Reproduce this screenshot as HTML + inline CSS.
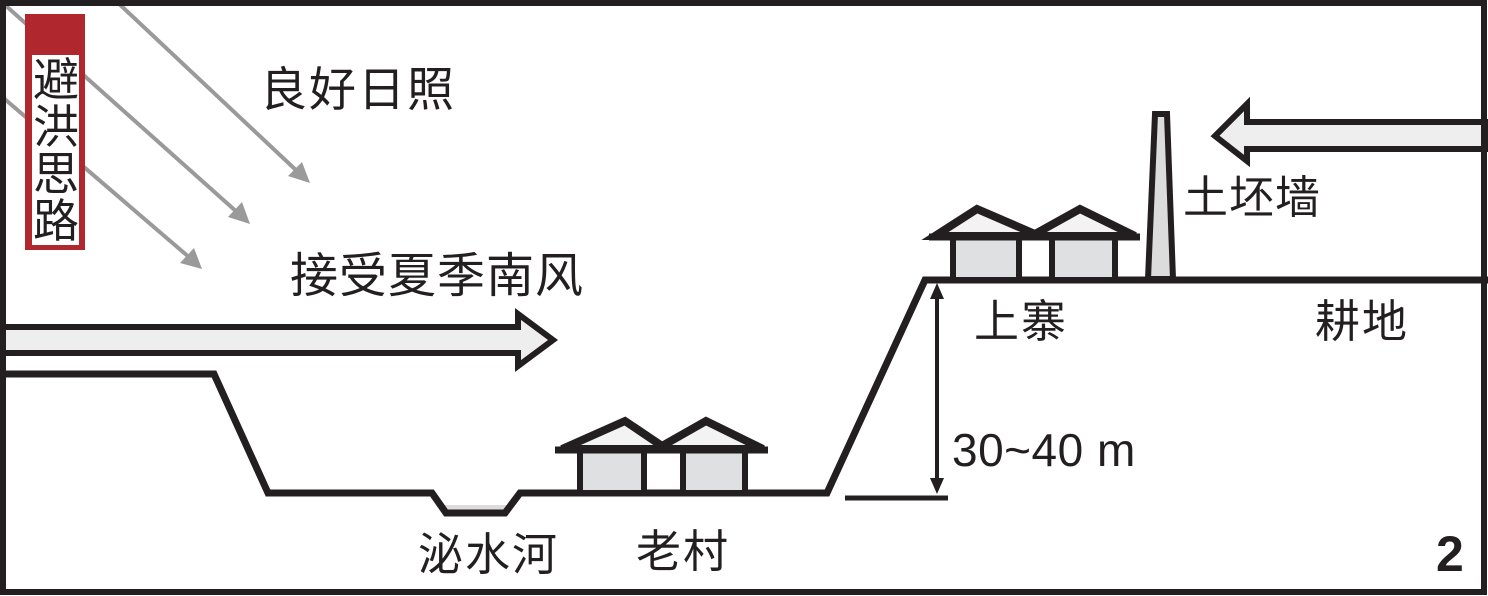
<!DOCTYPE html>
<html><head><meta charset="utf-8"><style>
body{margin:0;background:#fff}
svg{display:block}
text{font-family:"Liberation Sans","Noto Sans CJK SC",sans-serif;fill:#231f20}
</style></head><body>
<svg width="1488" height="596" viewBox="0 0 1488 596" xmlns="http://www.w3.org/2000/svg">
<rect x="0" y="0" width="1488" height="596" fill="#fff"/>
<g stroke="#9a9a9a" stroke-width="4" fill="#9a9a9a">
<line x1="115" y1="0" x2="298" y2="172"/>
<polygon points="310,183 288,176 302,162" stroke="none"/>
<line x1="5" y1="5" x2="238" y2="213"/>
<polygon points="250,224 228,217 242,202" stroke="none"/>
<line x1="0" y1="95" x2="190" y2="258"/>
<polygon points="202,269 180,263 194,248" stroke="none"/>
</g>
<rect x="25" y="14" width="60" height="236" fill="#b0282e"/>
<rect x="32" y="55" width="47" height="190" fill="#fff"/>
<g font-size="46">
<text x="33" y="96">避</text><text x="33" y="143">洪</text><text x="33" y="190">思</text><text x="33" y="237">路</text>
</g>
<text x="260" y="106" font-size="47" letter-spacing="2">良好日照</text>
<text x="290" y="292" font-size="48" letter-spacing="1">接受夏季南风</text>
<text x="1183" y="213" font-size="45" letter-spacing="1">土坯墙</text>
<text x="974" y="337" font-size="45" letter-spacing="2">上寨</text>
<text x="1315" y="337" font-size="45" letter-spacing="2">耕地</text>
<text x="418" y="570" font-size="45" letter-spacing="2">泌水河</text>
<text x="636" y="567" font-size="45" letter-spacing="2">老村</text>
<text x="952" y="466" font-size="46" letter-spacing="0.5">30~40 m</text>
<text x="1436" y="571" font-size="50" font-weight="bold">2</text>
<polygon points="0,327 518,327 518,314 553,340 518,366 518,353 0,353" fill="#eee" stroke="#231f20" stroke-width="6"/>
<polygon points="1488,122 1247,122 1247,104 1215,136 1247,161 1247,149 1488,149" fill="#eee" stroke="#231f20" stroke-width="6"/>
<polygon points="440,505 514,505 506,516 446,516" fill="#dcdcdc"/>
<polyline points="0,374 214,374 268,493 432,493 446,513 505,513 520,493 827,493 925,280 1488,280" fill="none" stroke="#231f20" stroke-width="7" stroke-linejoin="miter"/>
<g stroke="#231f20" stroke-width="6">
<rect x="580" y="450" width="64" height="43" fill="#dfe0e1"/>
<rect x="683" y="450" width="62" height="43" fill="#dfe0e1"/>
<polygon points="562,449 625,421 662,446 706,421 763,449" fill="#f3f3f3" stroke-width="8"/>
<line x1="555" y1="450" x2="768" y2="450" stroke-width="7"/>
</g>
<g stroke="#231f20" stroke-width="6">
<rect x="953" y="237" width="66" height="43" fill="#dfe0e1"/>
<rect x="1052" y="237" width="63" height="43" fill="#dfe0e1"/>
<polygon points="935,236 977,209 1035,234 1080,209 1135,236" fill="#f3f3f3" stroke-width="8"/>
<line x1="929" y1="237" x2="1140" y2="237" stroke-width="7"/>
<polygon points="1148,279 1155,114 1167,114 1173,279" fill="#dcdcdc"/>
</g>
<line x1="937" y1="296" x2="937" y2="480" stroke="#231f20" stroke-width="4"/>
<polygon points="937,283 930,299 944,299" fill="#231f20"/>
<polygon points="937,494 930,478 944,478" fill="#231f20"/>
<line x1="845" y1="498" x2="948" y2="498" stroke="#231f20" stroke-width="5"/>
<rect x="3" y="3" width="1481" height="589" fill="none" stroke="#231f20" stroke-width="6"/>
</svg>
</body></html>
